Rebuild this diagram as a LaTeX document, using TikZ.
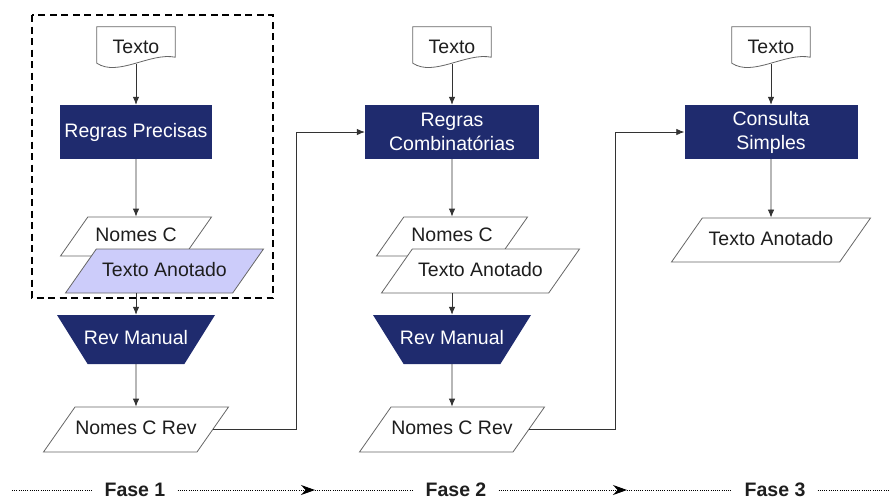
\documentclass[tikz,border=0pt]{standalone}
\usepackage{fontspec}
\setmainfont{Liberation Sans}
\usetikzlibrary{positioning,shapes.geometric,arrows.meta}

\definecolor{navy}{RGB}{31,43,110}
\definecolor{lavender}{RGB}{204,204,250}
\definecolor{ink}{RGB}{30,30,30}

\tikzset{
  doc/.style={minimum width=78pt, minimum height=40pt, inner sep=0pt, text=ink},
  docline/.style={draw=black!60, line width=0.8pt},
  rulebox/.style={rectangle, fill=navy, text=white, align=center, minimum height=54pt, inner sep=0pt},
  io/.style={trapezium, trapezium left angle=55, trapezium right angle=125, trapezium stretches body,
    draw=black!60, line width=0.8pt, fill=white, text=ink, text height=14pt, text depth=4pt,
    inner xsep=-2pt, inner ysep=#1, minimum height=0pt},
  io/.default=10.5pt,
  revbox/.style={trapezium, trapezium left angle=122, trapezium right angle=122, trapezium stretches body,
    fill=navy, text=white, text height=14pt, text depth=4pt, inner xsep=-4pt, inner ysep=15.5pt,
    minimum width=158pt},
  flow/.style={draw=black!80, line width=0.8pt, -{Latex[length=8pt,width=6.5pt]}},
  phase/.style={font=\fontsize{19.5}{24}\selectfont\bfseries, text=ink, inner xsep=12pt, inner ysep=0pt,
    text height=14pt, text depth=0pt},
  phaseline/.style={line width=1pt, dash pattern=on 1pt off 1.2pt},
  groupbox/.style={draw, line width=1.5pt, dash pattern=on 7pt off 4.5pt}
}

\begin{document}
\begin{tikzpicture}[x=1pt, y=1pt, node distance=85pt, font=\fontsize{19.5}{24}\selectfont]
    \useasboundingbox (0,0) rectangle (890,-501);

    % fase 1
    \node (txt1) [doc] at (136,-47) {Texto};
    \node (rp1) [rulebox, below of=txt1, minimum width=152pt] {Regras Precisas};
    \node (nc1) [io, below of=rp1, yshift=-19.5pt, minimum width=151pt] {Nomes C};
    \node (ta1) [io=13pt, fill=lavender, node distance=34.5pt, below of=nc1, xshift=28.5pt, minimum width=198pt] {Texto Anotado};
    \node (rm1) [revbox, below of=nc1, yshift=-18pt] {Rev Manual};
    \node (ncr1) [io=13.5pt, below of=rm1, yshift=-5pt, minimum width=185pt] {Nomes C Rev};
    \draw[groupbox] (32,-15) rectangle (273,-298);

    % fase 2
    \node (txt2) [doc, node distance=316pt, right of=txt1] {Texto};
    \node (rc2) [rulebox, below of=txt2, minimum width=174pt] {Regras\\Combinatórias};
    \node (nc2) [io, below of=rc2, yshift=-19.5pt, minimum width=151pt] {Nomes C};
    \node (ta2) [io=13pt, node distance=34.5pt, below of=nc2, xshift=28.5pt, minimum width=198pt] {Texto Anotado};
    \node (rm2) [revbox, below of=nc2, yshift=-18pt] {Rev Manual};
    \node (ncr2) [io=13.5pt, below of=rm2, yshift=-5pt, minimum width=185pt] {Nomes C Rev};

    % fase 3
    \node (txt3) [doc, node distance=319pt, right of=txt2] {Texto};
    \node (cs3) [rulebox, below of=txt3, minimum width=173pt] {Consulta\\Simples};
    \node (ta3) [io=13pt, below of=cs3, yshift=-23pt, minimum width=199pt] {Texto Anotado};

    % document outlines
    \foreach \d in {txt1,txt2,txt3}
      \draw[docline] (\d.north west) -- (\d.north east) -- ([yshift=10pt]\d.south east)
        .. controls ([xshift=-25pt,yshift=15pt]\d.south east) and ([xshift=21pt,yshift=-10pt]\d.south west)
        .. ([yshift=4pt]\d.south west) -- cycle;

    \draw[flow] ([yshift=3pt]txt1.south) -- (rp1.north);
    \draw[flow] (rp1.south) -- (nc1.north);
    \draw[flow] (rm1.north |- ta1.south) -- (rm1.north);
    \draw[flow] (rm1.south) -- (ncr1.north);

    \draw[flow] ([yshift=3pt]txt2.south) -- (rc2.north);
    \draw[flow] (rc2.south) -- (nc2.north);
    \draw[flow] (rm2.north |- ta2.south) -- (rm2.north);
    \draw[flow] (rm2.south) -- (ncr2.north);

    \draw[flow] ([yshift=3pt]txt3.south) -- (cs3.north);
    \draw[flow] (cs3.south) -- (ta3.north);

    % ligacoes entre fases
    \coordinate (j1) at (296,-132);
    \coordinate (j2) at (615,-132);
    \draw[flow] (ncr1.east) -| (j1) -- (rc2.west);
    \draw[flow] (ncr2.east) -| (j2) -- (cs3.west);

    % linha das fases
    \node (f1) [phase] at (135,-489) {Fase 1};
    \node (f2) [phase] at (456,-489) {Fase 2};
    \node (f3) [phase] at (775,-489) {Fase 3};
    \coordinate (l0) at (12,-490);
    \coordinate (a1) at (315,-490);
    \coordinate (a2) at (627,-490);
    \coordinate (l9) at (888,-490);
    \draw[phaseline] (l0) -- (l0 -| f1.west);
    \draw[phaseline, -{Stealth[length=14pt,width=10pt]}] (a1 -| f1.east) -- (a1);
    \draw[phaseline] (a1) -- (a1 -| f2.west);
    \draw[phaseline, -{Stealth[length=14pt,width=10pt]}] (a2 -| f2.east) -- (a2);
    \draw[phaseline] (a2) -- (a2 -| f3.west);
    \draw[phaseline] (l9 -| f3.east) -- (l9);
\end{tikzpicture}
\end{document}
